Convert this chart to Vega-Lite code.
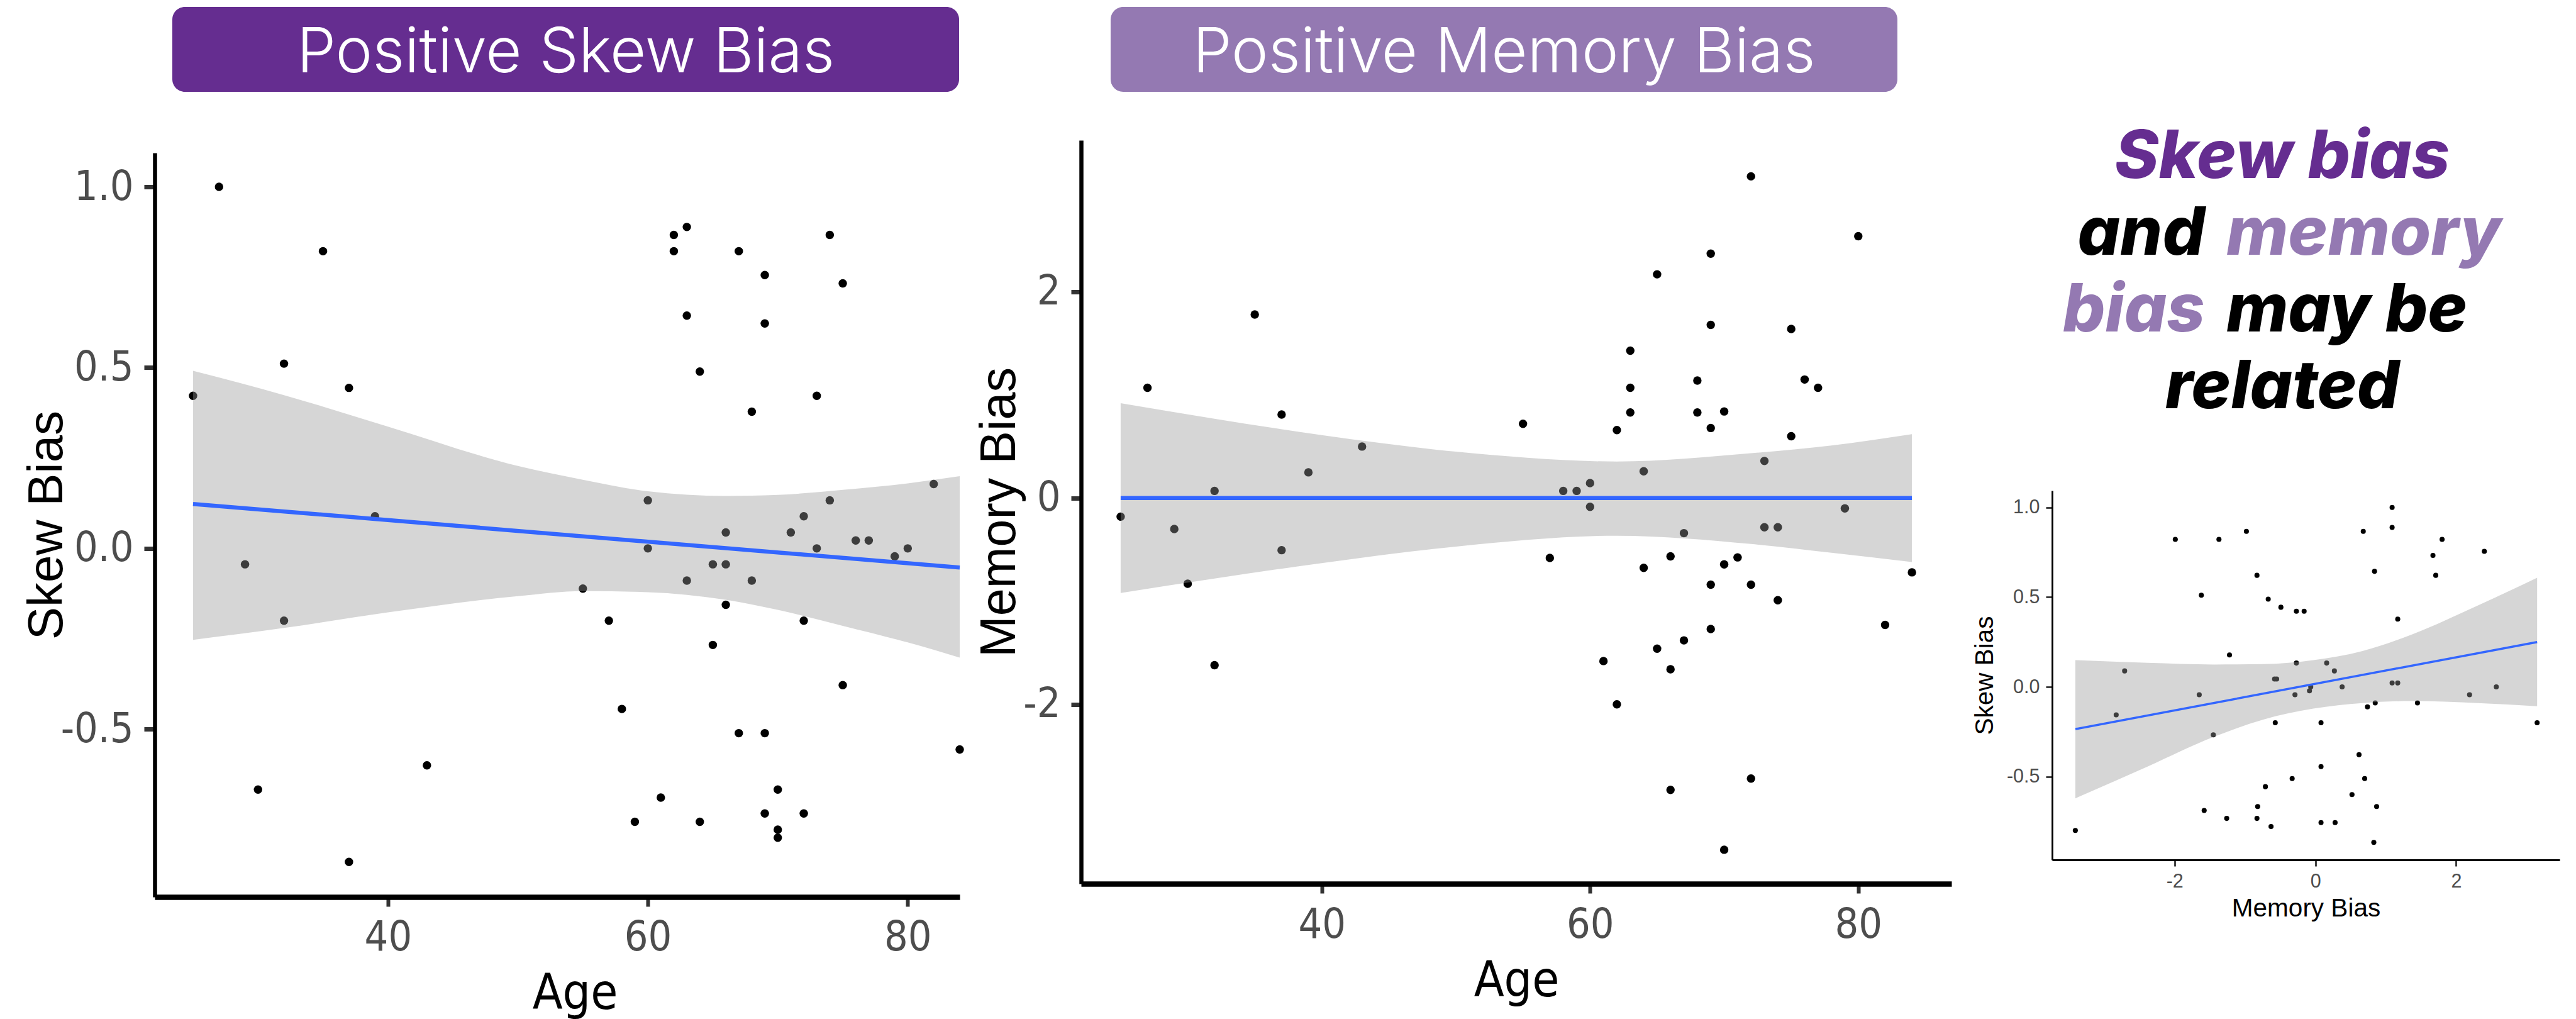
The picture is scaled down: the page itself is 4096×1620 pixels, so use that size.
{
  "$schema": "https://vega.github.io/schema/vega-lite/v6.json",
  "width": 4096,
  "height": 1620,
  "autosize": {"type": "none"},
  "padding": 0,
  "background": "#ffffff",
  "config": {"view": {"stroke": null}, "axis": {"grid": false}},
  "datasets": {
    "p1": [
      {"age":27,"v":1.0},{"age":35,"v":0.822},{"age":62,"v":0.867},{"age":63,"v":0.889},{"age":62,"v":0.822},
      {"age":67,"v":0.822},{"age":74,"v":0.867},{"age":69,"v":0.756},{"age":75,"v":0.733},{"age":63,"v":0.644},
      {"age":69,"v":0.622},{"age":32,"v":0.511},{"age":64,"v":0.489},{"age":37,"v":0.444},{"age":25,"v":0.422},
      {"age":73,"v":0.422},{"age":68,"v":0.378},{"age":82,"v":0.178},{"age":60,"v":0.133},{"age":74,"v":0.133},
      {"age":39,"v":0.089},{"age":72,"v":0.089},{"age":66,"v":0.044},{"age":71,"v":0.044},{"age":76,"v":0.022},
      {"age":77,"v":0.022},{"age":60,"v":0.0},{"age":73,"v":0.0},{"age":80,"v":0.0},{"age":79,"v":-0.022},
      {"age":29,"v":-0.044},{"age":65,"v":-0.044},{"age":66,"v":-0.044},{"age":63,"v":-0.089},{"age":68,"v":-0.089},
      {"age":55,"v":-0.111},{"age":66,"v":-0.156},{"age":32,"v":-0.2},{"age":57,"v":-0.2},{"age":72,"v":-0.2},
      {"age":65,"v":-0.267},{"age":75,"v":-0.378},{"age":58,"v":-0.444},{"age":67,"v":-0.511},{"age":69,"v":-0.511},
      {"age":84,"v":-0.556},{"age":43,"v":-0.6},{"age":30,"v":-0.667},{"age":70,"v":-0.667},{"age":61,"v":-0.689},
      {"age":69,"v":-0.733},{"age":72,"v":-0.733},{"age":59,"v":-0.756},{"age":64,"v":-0.756},{"age":70,"v":-0.778},
      {"age":70,"v":-0.8},{"age":37,"v":-0.867}
    ],
    "p1band": [
      {"age":25,"v":-0.253,"hi":0.491},{"age":32,"v":-0.22,"hi":0.424},{"age":40,"v":-0.177,"hi":0.337},
      {"age":50,"v":-0.132,"hi":0.228},{"age":55,"v":-0.118,"hi":0.19},{"age":60,"v":-0.121,"hi":0.158},
      {"age":66,"v":-0.142,"hi":0.145},{"age":70,"v":-0.17,"hi":0.148},{"age":75,"v":-0.214,"hi":0.162},
      {"age":80,"v":-0.26,"hi":0.18},{"age":84,"v":-0.302,"hi":0.2}
    ],
    "p1line": [{"age":25,"v":0.123},{"age":84,"v":-0.053}],
    "p2": [
      {"age":72,"v":3.12},{"age":80,"v":2.54},{"age":69,"v":2.37},{"age":65,"v":2.17},{"age":35,"v":1.78},
      {"age":69,"v":1.68},{"age":75,"v":1.64},{"age":63,"v":1.43},{"age":27,"v":1.07},{"age":63,"v":1.07},
      {"age":68,"v":1.14},{"age":76,"v":1.15},{"age":77,"v":1.07},{"age":37,"v":0.81},{"age":63,"v":0.83},
      {"age":68,"v":0.83},{"age":70,"v":0.84},{"age":55,"v":0.72},{"age":62,"v":0.66},{"age":69,"v":0.68},
      {"age":75,"v":0.6},{"age":43,"v":0.5},{"age":73,"v":0.36},{"age":39,"v":0.25},{"age":64,"v":0.26},
      {"age":60,"v":0.146},{"age":32,"v":0.07},{"age":58,"v":0.07},{"age":59,"v":0.07},{"age":60,"v":-0.085},
      {"age":79,"v":-0.1},{"age":25,"v":-0.18},{"age":29,"v":-0.3},{"age":73,"v":-0.283},{"age":74,"v":-0.283},
      {"age":67,"v":-0.34},{"age":37,"v":-0.505},{"age":57,"v":-0.58},{"age":66,"v":-0.565},{"age":71,"v":-0.575},
      {"age":70,"v":-0.643},{"age":64,"v":-0.676},{"age":84,"v":-0.72},{"age":30,"v":-0.83},{"age":69,"v":-0.84},
      {"age":72,"v":-0.84},{"age":74,"v":-0.99},{"age":82,"v":-1.23},{"age":69,"v":-1.27},{"age":67,"v":-1.38},
      {"age":65,"v":-1.46},{"age":61,"v":-1.58},{"age":32,"v":-1.62},{"age":66,"v":-1.66},{"age":62,"v":-2.0},
      {"age":72,"v":-2.72},{"age":66,"v":-2.83},{"age":70,"v":-3.41}
    ],
    "p2band": [
      {"age":25,"v":-0.92,"hi":0.92},{"age":32,"v":-0.78,"hi":0.77},{"age":40,"v":-0.63,"hi":0.61},
      {"age":50,"v":-0.47,"hi":0.45},{"age":62,"v":-0.365,"hi":0.355},{"age":72,"v":-0.445,"hi":0.435},
      {"age":78,"v":-0.53,"hi":0.51},{"age":84,"v":-0.62,"hi":0.62}
    ],
    "p2line": [{"age":25,"v":0.0},{"age":84,"v":0.0}],
    "p3": [
      {"mem":1.09,"v":1.0},{"mem":1.09,"v":0.889},{"mem":-0.98,"v":0.867},{"mem":0.68,"v":0.867},
      {"mem":-1.99,"v":0.822},{"mem":-1.37,"v":0.822},{"mem":1.8,"v":0.822},{"mem":2.4,"v":0.756},
      {"mem":1.67,"v":0.733},{"mem":0.84,"v":0.644},{"mem":-0.83,"v":0.622},{"mem":1.71,"v":0.622},
      {"mem":-1.62,"v":0.511},{"mem":-0.67,"v":0.489},{"mem":-0.49,"v":0.444},{"mem":-0.27,"v":0.422},
      {"mem":-0.16,"v":0.422},{"mem":1.17,"v":0.378},{"mem":-1.22,"v":0.178},{"mem":-0.27,"v":0.133},
      {"mem":0.16,"v":0.133},{"mem":-2.71,"v":0.089},{"mem":0.27,"v":0.089},{"mem":-0.58,"v":0.044},
      {"mem":-0.55,"v":0.044},{"mem":1.09,"v":0.022},{"mem":1.17,"v":0.022},{"mem":0.38,"v":0.0},
      {"mem":2.57,"v":0.0},{"mem":-0.066,"v":0.0},{"mem":-0.084,"v":-0.022},{"mem":-1.65,"v":-0.044},
      {"mem":-0.29,"v":-0.044},{"mem":2.19,"v":-0.044},{"mem":0.85,"v":-0.089},{"mem":1.45,"v":-0.089},
      {"mem":0.74,"v":-0.111},{"mem":-2.83,"v":-0.156},{"mem":-0.57,"v":-0.2},{"mem":0.08,"v":-0.2},
      {"mem":3.15,"v":-0.2},{"mem":-1.45,"v":-0.267},{"mem":0.62,"v":-0.378},{"mem":0.08,"v":-0.444},
      {"mem":-0.33,"v":-0.511},{"mem":0.7,"v":-0.511},{"mem":-0.71,"v":-0.556},{"mem":0.52,"v":-0.6},
      {"mem":-1.58,"v":-0.689},{"mem":-0.82,"v":-0.667},{"mem":0.87,"v":-0.667},{"mem":-1.26,"v":-0.733},
      {"mem":-0.83,"v":-0.733},{"mem":0.08,"v":-0.756},{"mem":0.28,"v":-0.756},{"mem":-0.63,"v":-0.778},
      {"mem":-3.41,"v":-0.8},{"mem":0.83,"v":-0.867}
    ],
    "p3band": [
      {"mem":-3.41,"v":-0.621,"hi":0.149},{"mem":-2.38,"v":-0.443,"hi":0.134},{"mem":-1.44,"v":-0.278,"hi":0.125},
      {"mem":-0.74,"v":-0.182,"hi":0.127},{"mem":-0.03,"v":-0.121,"hi":0.149},{"mem":0.67,"v":-0.09,"hi":0.2},
      {"mem":1.37,"v":-0.079,"hi":0.292},{"mem":2.31,"v":-0.09,"hi":0.454},{"mem":3.15,"v":-0.108,"hi":0.608}
    ],
    "p3line": [{"mem":-3.41,"v":-0.235},{"mem":3.15,"v":0.25}],
    "headers": [
      {"label":"Positive Skew Bias","tone":"dark","row":"h"},
      {"label":"Positive Memory Bias","tone":"light","row":"h"}
    ],
    "words": [
      {"line":1,"text":"Skew bias","tone":"dark","side":"c","anchor":"center"},
      {"line":2,"text":"and","tone":"black","side":"l","anchor":"split"},
      {"line":2,"text":"memory","tone":"light","side":"r","anchor":"split"},
      {"line":3,"text":"bias","tone":"light","side":"l","anchor":"split"},
      {"line":3,"text":"may be","tone":"black","side":"r","anchor":"split"},
      {"line":4,"text":"related","tone":"black","side":"c","anchor":"center"}
    ]
  },
  "layer": [
    {
      "encoding": {
        "x": {"field":"age","type":"quantitative",
          "scale":{"domain":[22.05,84],"range":[246,1526],"nice":false,"zero":false},
          "axis":{"orient":"bottom","offset":-194,"values":[40,60,80],"title":"Age","titleX":914,"titleY":177,"titleBaseline":"alphabetic",
            "titleFont":"Liberation Sans Narrow, DejaVu Sans Condensed, sans-serif","titleFontSize":78,"titleFontWeight":"normal","titleColor":"#000000",
            "labelFont":"Liberation Sans Narrow, DejaVu Sans Condensed, sans-serif","labelFontSize":66,"labelColor":"#4D4D4D","labelPadding":17,
            "tickSize":15,"tickWidth":6,"tickColor":"#333333","domainColor":"#000000","domainWidth":8.5,"labelFlush":false,"labelOverlap":false}},
        "y": {"field":"v","type":"quantitative",
          "scale":{"domain":[-0.964,1.094],"range":[1426,243],"nice":false,"zero":false},
          "axis":{"orient":"left","offset":-246,"values":[-0.5,0,0.5,1],
            "labelExpr":"datum.value < 0 ? '-' + format(-datum.value, '.1f') : format(datum.value, '.1f')",
            "title":"Skew Bias","titleX":-132,"titleAngle":270,"titleBaseline":"bottom",
            "titleFont":"Liberation Sans, Arial, sans-serif","titleFontSize":78,"titleFontWeight":"normal","titleColor":"#000000",
            "labelFont":"Liberation Sans Narrow, DejaVu Sans Condensed, sans-serif","labelFontSize":66,"labelColor":"#4D4D4D","labelPadding":17,
            "tickSize":17,"tickWidth":7,"tickColor":"#333333","domainColor":"#000000","domainWidth":6.5,"labelOverlap":false}}
      },
      "layer": [
        {"data":{"name":"p1"},"mark":{"type":"circle","size":180,"color":"#000000","opacity":1}},
        {"data":{"name":"p1band"},"mark":{"type":"area","color":"#999999","opacity":0.4,"interpolate":"monotone"},
          "encoding":{"y2":{"field":"hi"}}},
        {"data":{"name":"p1line"},"mark":{"type":"line","color":"#3366FF","strokeWidth":6.5}}
      ]
    },
    {
      "encoding": {
        "x": {"field":"age","type":"quantitative",
          "scale":{"domain":[22.05,86.95],"range":[1719,3103],"nice":false,"zero":false},
          "axis":{"orient":"bottom","offset":-215,"values":[40,60,80],"title":"Age","titleY":178,"titleBaseline":"alphabetic",
            "titleFont":"Liberation Sans Narrow, DejaVu Sans Condensed, sans-serif","titleFontSize":78,"titleFontWeight":"normal","titleColor":"#000000",
            "labelFont":"Liberation Sans Narrow, DejaVu Sans Condensed, sans-serif","labelFontSize":66,"labelColor":"#4D4D4D","labelPadding":18,
            "tickSize":15,"tickWidth":6,"tickColor":"#333333","domainColor":"#000000","domainWidth":8.5,"labelFlush":false,"labelOverlap":false}},
        "y": {"field":"v","type":"quantitative",
          "scale":{"domain":[-3.74,3.47],"range":[1405,223],"nice":false,"zero":false},
          "axis":{"orient":"left","offset":-1719,"values":[-2,0,2],
            "labelExpr":"datum.value < 0 ? '-' + format(-datum.value, 'd') : format(datum.value, 'd')",
            "title":"Memory Bias","titleX":-89,"titleAngle":270,"titleBaseline":"bottom",
            "titleFont":"Liberation Sans, Arial, sans-serif","titleFontSize":79,"titleFontWeight":"normal","titleColor":"#000000",
            "labelFont":"Liberation Sans Narrow, DejaVu Sans Condensed, sans-serif","labelFontSize":66,"labelColor":"#4D4D4D","labelPadding":17,
            "tickSize":16,"tickWidth":7,"tickColor":"#333333","domainColor":"#000000","domainWidth":6.5,"labelOverlap":false}}
      },
      "layer": [
        {"data":{"name":"p2"},"mark":{"type":"circle","size":180,"color":"#000000","opacity":1}},
        {"data":{"name":"p2band"},"mark":{"type":"area","color":"#999999","opacity":0.4,"interpolate":"monotone"},
          "encoding":{"y2":{"field":"hi"}}},
        {"data":{"name":"p2line"},"mark":{"type":"line","color":"#3366FF","strokeWidth":6.5}}
      ]
    },
    {
      "encoding": {
        "x": {"field":"mem","type":"quantitative",
          "scale":{"domain":[-3.74,3.47],"range":[3263,4070],"nice":false,"zero":false},
          "axis":{"orient":"bottom","offset":-253,"values":[-2,0,2],
            "labelExpr":"datum.value < 0 ? '-' + format(-datum.value, 'd') : format(datum.value, 'd')",
            "title":"Memory Bias","titleY":89,"titleBaseline":"alphabetic",
            "titleFont":"Liberation Sans, Arial, sans-serif","titleFontSize":40.5,"titleFontWeight":"normal","titleColor":"#000000",
            "labelFont":"Liberation Sans, Arial, sans-serif","labelFontSize":30.5,"labelColor":"#4D4D4D","labelPadding":9,
            "tickSize":10,"tickWidth":2.8,"tickColor":"#333333","domainColor":"#000000","domainWidth":2.8,"labelFlush":false,"labelOverlap":false}},
        "y": {"field":"v","type":"quantitative",
          "scale":{"domain":[-0.964,1.094],"range":[1367,780],"nice":false,"zero":false},
          "axis":{"orient":"left","offset":-3263,"values":[-0.5,0,0.5,1],
            "labelExpr":"datum.value < 0 ? '-' + format(-datum.value, '.1f') : format(datum.value, '.1f')",
            "title":"Skew Bias","titleX":-85.5,"titleAngle":270,"titleBaseline":"bottom",
            "titleFont":"Liberation Sans, Arial, sans-serif","titleFontSize":40.5,"titleFontWeight":"normal","titleColor":"#000000",
            "labelFont":"Liberation Sans, Arial, sans-serif","labelFontSize":30.5,"labelColor":"#4D4D4D","labelPadding":10,
            "tickSize":10,"tickWidth":2.8,"tickColor":"#333333","domainColor":"#000000","domainWidth":2.8,"labelOverlap":false}}
      },
      "layer": [
        {"data":{"name":"p3"},"mark":{"type":"circle","size":65,"color":"#000000","opacity":1}},
        {"data":{"name":"p3band"},"mark":{"type":"area","color":"#999999","opacity":0.4,"interpolate":"monotone"},
          "encoding":{"y2":{"field":"hi"}}},
        {"data":{"name":"p3line"},"mark":{"type":"line","color":"#3366FF","strokeWidth":3.5}}
      ]
    },
    {
      "data": {"name":"headers"},
      "encoding": {
        "x": {"field":"label","type":"nominal","sort":null,
          "scale":{"type":"band","range":[274,3017],"paddingInner":0.1615,"paddingOuter":0},"axis":null},
        "y": {"field":"row","type":"nominal",
          "scale":{"type":"band","range":[11,146],"paddingInner":0,"paddingOuter":0},"axis":null}
      },
      "layer": [
        {"mark":{"type":"bar","cornerRadius":20},
          "encoding":{"color":{"field":"tone","type":"nominal",
            "scale":{"domain":["dark","light","black"],"range":["#652D90","#9479B2","#000000"]},"legend":null}}},
        {"mark":{"type":"text","color":"#ffffff","font":"Inter, Lato, sans-serif","fontWeight":300,"fontSize":99,"baseline":"middle","dy":6},
          "encoding":{"text":{"field":"label"}}}
      ]
    },
    {
      "data": {"name":"words"},
      "encoding": {
        "x": {"field":"anchor","type":"nominal",
          "scale":{"type":"point","domain":["split","center"],"range":[3523,3629],"padding":0},"axis":null},
        "y": {"field":"line","type":"ordinal",
          "scale":{"type":"point","domain":[1,2,3,4],"range":[283,649],"padding":0},"axis":null},
        "text": {"field":"text"},
        "color": {"field":"tone","type":"nominal",
          "scale":{"domain":["dark","light","black"],"range":["#652D90","#9479B2","#000000"]},"legend":null}
      },
      "layer": [
        {"transform":[{"filter":"datum.side === 'c'"}],
          "mark":{"type":"text","align":"center","baseline":"alphabetic","font":"Inter, Lato, sans-serif","fontWeight":800,"fontStyle":"italic","fontSize":106}},
        {"transform":[{"filter":"datum.side === 'l'"}],
          "mark":{"type":"text","align":"right","dx":-17,"baseline":"alphabetic","font":"Inter, Lato, sans-serif","fontWeight":800,"fontStyle":"italic","fontSize":106}},
        {"transform":[{"filter":"datum.side === 'r'"}],
          "mark":{"type":"text","align":"left","dx":17,"baseline":"alphabetic","font":"Inter, Lato, sans-serif","fontWeight":800,"fontStyle":"italic","fontSize":106}}
      ]
    }
  ],
  "resolve": {"scale": {"x": "independent", "y": "independent"}, "axis": {"x": "independent", "y": "independent"}}
}
